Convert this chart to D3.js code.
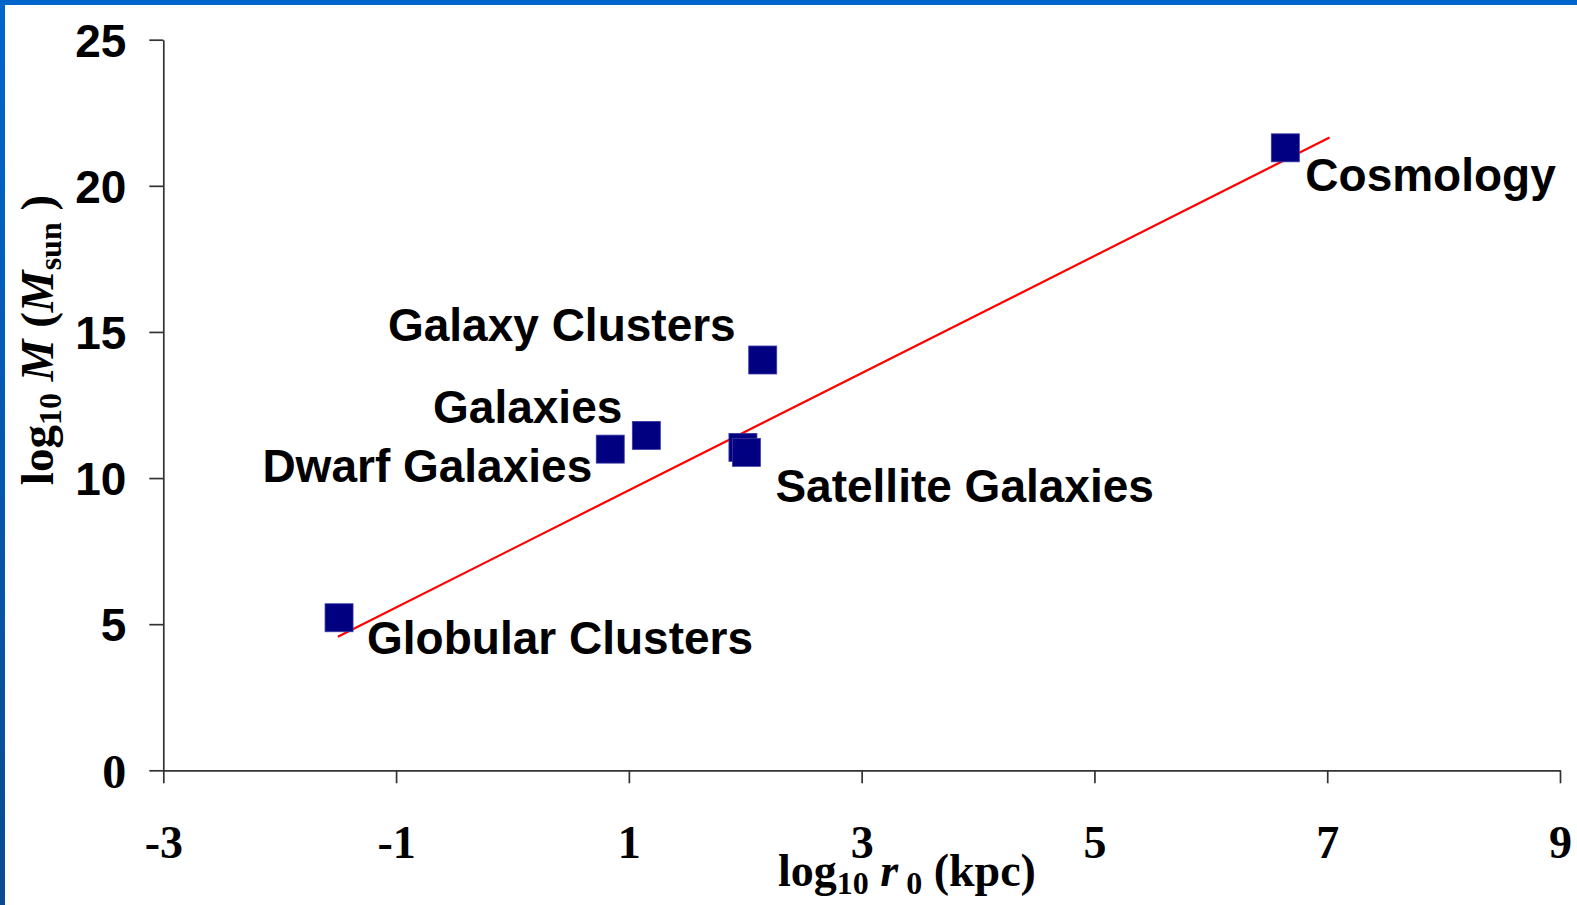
<!DOCTYPE html>
<html>
<head>
<meta charset="utf-8">
<script src="https://cdn.jsdelivr.net/npm/d3@7"></script>
<style>
  html, body { margin: 0; padding: 0; background: #fff; }
  svg { display: block; }
</style>
</head>
<body>
<svg id="chart" width="1577" height="905"></svg>
<script>
// ---- data ----
const names   = ["Globular Clusters", "Dwarf Galaxies", "Galaxies", "Satellite Galaxies", "Satellite Galaxies", "Galaxy Clusters", "Cosmology"];
const logR    = [-1.49, 0.84, 1.15, 1.98, 2.01, 2.15, 6.64];
const logM    = [5.22, 10.99, 11.46, 11.05, 10.88, 14.04, 21.30];
const fitX    = [-1.50, 7.02];
const fitY    = [4.57, 21.65];
const xTicks  = [-3, -1, 1, 3, 5, 7, 9];
const yTicks  = [0, 5, 10, 15, 20, 25];
const labelNames = ["Globular Clusters", "Dwarf Galaxies", "Galaxies", "Satellite Galaxies", "Galaxy Clusters", "Cosmology"];

// ---- layout (label placement relative to its marker) ----
const labelLayout = {
  "Globular Clusters":  {i: 0, dx: 28,  dy: 36,  anchor: "start"},
  "Dwarf Galaxies":     {i: 1, dx: -18, dy: 33,  anchor: "end"},
  "Galaxies":           {i: 2, dx: -24, dy: -12, anchor: "end"},
  "Satellite Galaxies": {i: 4, dx: 29,  dy: 50,  anchor: "start"},
  "Galaxy Clusters":    {i: 5, dx: -27, dy: -19, anchor: "end"},
  "Cosmology":          {i: 6, dx: 20,  dy: 43,  anchor: "start"}
};

const svg = d3.select("#chart");
const W = 1577, H = 905;

// frame
const defs = svg.append("defs");
const g1 = defs.append("linearGradient").attr("id", "leftbar").attr("x1", 0).attr("y1", 0).attr("x2", 0).attr("y2", 1);
g1.append("stop").attr("offset", "0%").attr("stop-color", "#0066cc");
g1.append("stop").attr("offset", "100%").attr("stop-color", "#0a4a92");
svg.append("rect").attr("x", 0).attr("y", 0).attr("width", W).attr("height", H).attr("fill", "#fff");
svg.append("rect").attr("x", 0).attr("y", 0).attr("width", W).attr("height", 5).attr("fill", "#0066cc");
svg.append("rect").attr("x", 0).attr("y", 0).attr("width", 5).attr("height", H).attr("fill", "url(#leftbar)");

const x = d3.scaleLinear().domain([-3, 9]).range([163.3, 1560]);
const y = d3.scaleLinear().domain([0, 25]).range([770.3, 39.7]);

const sans = "'Liberation Sans', Arial, Helvetica, sans-serif";
const serif = "'Liberation Serif', 'Times New Roman', Times, serif";

// x axis
const xAxis = svg.append("g").attr("transform", `translate(0,${y(0)})`)
  .call(d3.axisBottom(x).tickValues(xTicks).tickSize(13).tickSizeOuter(0).tickFormat(d3.format("d")));
xAxis.select(".domain").attr("stroke", "#333").attr("stroke-width", 1.7);
xAxis.selectAll(".tick line").attr("stroke", "#333").attr("stroke-width", 1.7);
xAxis.selectAll(".tick text")
  .attr("y", 0).attr("dy", 0).attr("transform", "translate(0,88)")
  .attr("fill", "#000").style("font-family", serif).style("font-weight", "bold").style("font-size", "46px")
  .text(d => d < 0 ? "-" + Math.abs(d) : d);

// y axis
const yAxis = svg.append("g").attr("transform", `translate(${x(-3)},0)`)
  .call(d3.axisLeft(y).tickValues(yTicks).tickSize(14).tickSizeOuter(0).tickFormat(d3.format("d")));
yAxis.select(".domain").attr("stroke", "#333").attr("stroke-width", 1.7);
yAxis.selectAll(".tick line").attr("stroke", "#333").attr("stroke-width", 1.7);
yAxis.selectAll(".tick text")
  .attr("x", -37).attr("dy", "0.36em")
  .attr("fill", "#000")
  .style("font-family", d => d === 0 ? serif : sans)
  .style("font-weight", "bold").style("font-size", d => d === 0 ? "48px" : "46px");

// fit line
const line = d3.line().x(d => x(d[0])).y(d => y(d[1]));
svg.append("path").datum(d3.zip(fitX, fitY))
  .attr("d", line).attr("fill", "none").attr("stroke", "#ff0000").attr("stroke-width", 2.2);

// markers
const S = 28;
svg.append("g").selectAll("rect").data(d3.range(logR.length)).join("rect")
  .attr("x", i => x(logR[i]) - S / 2).attr("y", i => y(logM[i]) - S / 2)
  .attr("width", S).attr("height", S)
  .attr("fill", "#000080").attr("stroke", "#3a3aa8").attr("stroke-width", 0.8);

// labels
svg.append("g").selectAll("text").data(labelNames).join("text")
  .attr("x", n => x(logR[labelLayout[n].i]) + labelLayout[n].dx)
  .attr("y", n => y(logM[labelLayout[n].i]) + labelLayout[n].dy)
  .attr("text-anchor", n => labelLayout[n].anchor)
  .style("font-family", sans).style("font-weight", "bold").style("font-size", "46px")
  .attr("fill", "#000")
  .text(n => n);

// x axis title
const xt = svg.append("text").attr("x", 907).attr("y", 886).attr("text-anchor", "middle")
  .style("font-family", serif).style("font-weight", "bold").style("font-size", "46px").attr("fill", "#000");
xt.append("tspan").text("log");
xt.append("tspan").attr("dy", 8).style("font-size", "32px").text("10");
xt.append("tspan").attr("dy", -8).text(" ");
xt.append("tspan").style("font-style", "italic").text("r");
xt.append("tspan").attr("dy", 8).style("font-size", "32px").text(" 0");
xt.append("tspan").attr("dy", -8).text(" (kpc)");

// y axis title
const yt = svg.append("text").attr("transform", "translate(53,340) rotate(-90)").attr("text-anchor", "middle")
  .style("font-family", serif).style("font-weight", "bold").style("font-size", "47px").attr("fill", "#000");
yt.append("tspan").text("log");
yt.append("tspan").attr("dy", 8).style("font-size", "32px").text("10");
yt.append("tspan").attr("dy", -8).text(" ");
yt.append("tspan").style("font-style", "italic").text("M");
yt.append("tspan").text(" (");
yt.append("tspan").style("font-style", "italic").text("M");
yt.append("tspan").attr("dy", 8).style("font-size", "32px").text("sun");
yt.append("tspan").attr("dy", -8).text(" )");
</script>
</body>
</html>
